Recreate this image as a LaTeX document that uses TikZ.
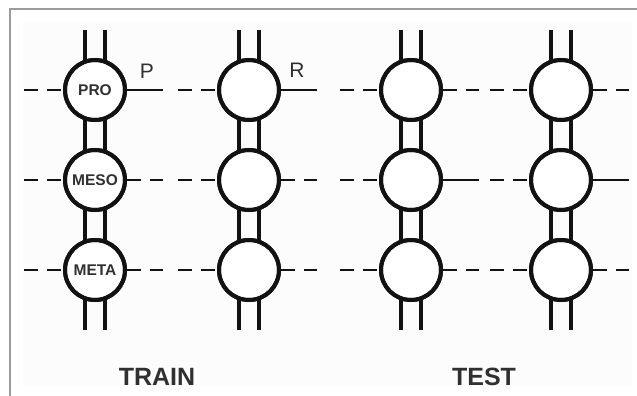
\documentclass[tikz,border=0pt]{standalone}
\usepackage{fontspec}
\setmainfont{Liberation Sans}
\definecolor{ink}{HTML}{121212}
\definecolor{txt}{HTML}{303030}
\definecolor{framec}{HTML}{9A9A9A}
\definecolor{panel}{HTML}{FCFCFC}
\begin{document}
\begin{tikzpicture}[x=1pt,y=-1pt,
  nd/.style={circle,draw=ink,line width=4pt,minimum size=60pt,inner sep=0pt,fill=white,
    font=\bfseries\fontsize{15.5}{15.5}\selectfont,text=txt},
  rail/.style={draw=ink,line width=3.2pt},
  solidseg/.style={draw=ink,line width=2.8pt},
  dashseg/.style={draw=ink,line width=2.8pt,dash pattern=on 14pt off 9pt},
  ttl/.style={font=\bfseries\fontsize{25}{25}\selectfont,text=txt},
  prlab/.style={font=\fontsize{21}{21}\selectfont,text=txt}]
\useasboundingbox (0,0) rectangle (637,396);
\fill[white] (0,0) rectangle (637,396);
\fill[panel] (23,23) rectangle (632,385);
\draw[framec,line width=1.2pt] (637,9) -- (10,9) -- (10,396);

% circles
\node[nd] (c11) at (95,90) {PRO};
\node[nd] (c12) at (95,180) {MESO};
\node[nd] (c13) at (95,270) {META};
\foreach \i/\x in {2/249,3/411,4/561}{
  \node[nd] (c\i1) at (\x,90) {};
  \node[nd] (c\i2) at (\x,180) {};
  \node[nd] (c\i3) at (\x,270) {};
}

% rails and free ends
\foreach \i/\x in {1/95,2/249,3/411,4/561}{
  \coordinate (ta\i) at (\x-10,30);
  \coordinate (tb\i) at (\x+10,30);
  \coordinate (ba\i) at (\x-10,330);
  \coordinate (bb\i) at (\x+10,330);
  \draw[rail] (ta\i) -- (ta\i |- c\i1.110);
  \draw[rail] (tb\i) -- (tb\i |- c\i1.70);
  \draw[rail] (ta\i |- c\i1.-110) -- (ta\i |- c\i2.110);
  \draw[rail] (tb\i |- c\i1.-70) -- (tb\i |- c\i2.70);
  \draw[rail] (ta\i |- c\i2.-110) -- (ta\i |- c\i3.110);
  \draw[rail] (tb\i |- c\i2.-70) -- (tb\i |- c\i3.70);
  \draw[rail] (ba\i |- c\i3.-110) -- (ba\i);
  \draw[rail] (bb\i |- c\i3.-70) -- (bb\i);
  \foreach \j/\y in {1/90,2/180,3/270}{
    \coordinate (l\i\j) at (\x-71,\y);
    \coordinate (r\i\j) at (\x+68,\y);
    \draw[dashseg] (l\i\j) -- (c\i\j.west);
  }
}
% redraw circles over rail ends
\foreach \i in {1,2,3,4}{\foreach \j in {1,2,3}{
  \draw[ink,line width=4pt] (c\i\j.center) circle[radius=30pt];
}}

% right-hand segments
\draw[solidseg] (c11.east) -- (r11);
\draw[solidseg] (c21.east) -- (r21);
\draw[dashseg] (c31.east) -- (r31);
\draw[dashseg] (c41.east) -- (r41);
\draw[dashseg] (c12.east) -- (r12);
\draw[dashseg] (c22.east) -- (r22);
\draw[solidseg] (c32.east) -- (r32);
\draw[solidseg] (c42.east) -- (r42);
\foreach \i in {1,2,3,4}{ \draw[dashseg] (c\i3.east) -- (r\i3); }

% labels
\node[prlab] (pl) at (147,71) {P};
\node[prlab] (rl) at (297,70) {R};
\node[ttl] (train) at (157,377) {TRAIN};
\node[ttl] (test) at (484,377) {TEST};
\end{tikzpicture}
\end{document}
